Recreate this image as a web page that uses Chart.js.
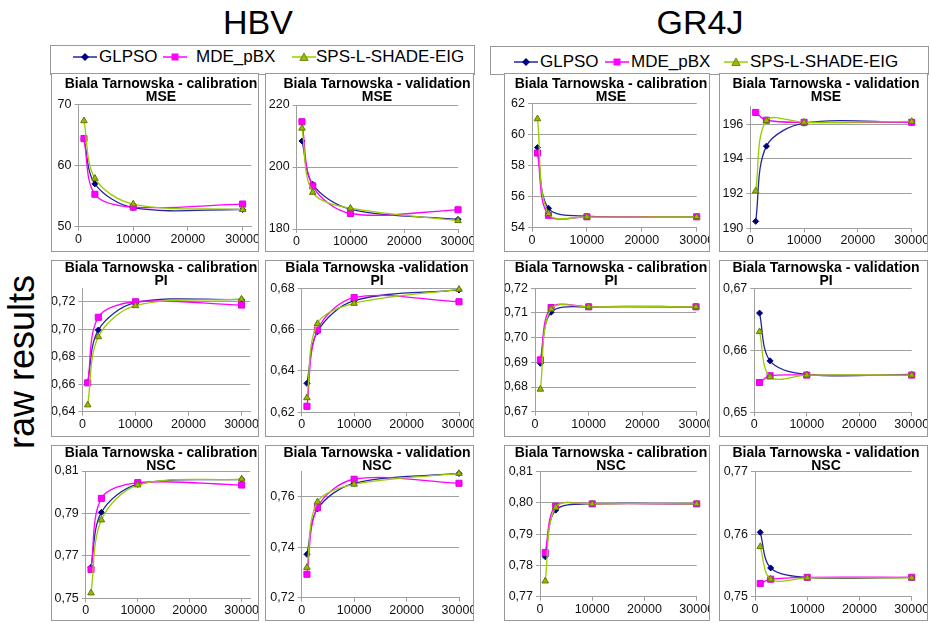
<!DOCTYPE html>
<html>
<head>
<meta charset="utf-8">
<script src="https://cdn.jsdelivr.net/npm/chart.js@4.4.1/dist/chart.umd.min.js"></script>
<style>
  body { margin: 0; background: #fff; font-family: 'Liberation Sans', Arial, sans-serif; }
  #page { position: relative; width: 931px; height: 623px; overflow: hidden; background: #fff; }
  .group-title { position: absolute; top: 3px; font-size: 34px; transform: translateX(-50%); white-space: nowrap; }
  .side-label { position: absolute; left: 22px; top: 362px; font-size: 36px; white-space: nowrap;
                transform: translate(-50%, -50%) rotate(-90deg); }
  .legend-box { position: absolute; border: 1px solid #999; box-sizing: border-box; }
  .legend-item { position: absolute; font-size: 17px; line-height: 20px; white-space: nowrap; }
  .legend-item svg { position: absolute; left: 0; top: 4px; }
  .panel { position: absolute; border: 1px solid #999; box-sizing: border-box; overflow: hidden; background: #fff; }
  .panel canvas { position: absolute; left: 0; top: 0; }
</style>
</head>
<body>
<div id="page">
  <div class="group-title" style="left:258px">HBV</div>
  <div class="group-title" style="left:700px">GR4J</div>
  <div class="side-label">raw results</div>
  <div class="legend-box" style="left:50px;top:45px;width:425px;height:30px"></div>
  <div class="legend-box" style="left:490px;top:46px;width:439px;height:29px"></div>
</div>
<script>
// x values: number of function evaluations
const evals = [1000, 3000, 10000, 30000];
const xTickValues = [0, 10000, 20000, 30000];
const seriesNames = ['GLPSO', 'MDE_pBX', 'SPS-L-SHADE-EIG'];

// ---- MSE ----
const hbvCalMseGLPSO = [64.3, 57.0, 53.1, 52.8];
const hbvCalMseMDE   = [64.4, 55.3, 53.2, 53.7];
const hbvCalMseSPS   = [67.3, 57.9, 53.7, 52.8];
const hbvCalMseTicks = [50, 60, 70];
const hbvCalMseRange = [50, 70];

const hbvValMseGLPSO = [208.4, 194.4, 186.4, 183.1];
const hbvValMseMDE   = [214.6, 193.9, 185.0, 186.2];
const hbvValMseSPS   = [212.5, 191.8, 186.7, 182.7];
const hbvValMseTicks = [180, 200, 220];
const hbvValMseRange = [180, 220];

const gr4jCalMseGLPSO = [59.15, 55.25, 54.75, 54.7];
const gr4jCalMseMDE   = [58.8, 54.8, 54.7, 54.7];
const gr4jCalMseSPS   = [61.0, 54.9, 54.7, 54.7];
const gr4jCalMseTicks = [54, 56, 58, 60, 62];
const gr4jCalMseRange = [54, 62];

const gr4jValMseGLPSO = [190.4, 194.73, 196.05, 196.1];
const gr4jValMseMDE   = [196.67, 196.22, 196.1, 196.1];
const gr4jValMseSPS   = [192.15, 196.2, 196.1, 196.15];
const gr4jValMseTicks = [190, 192, 194, 196];
const gr4jValMseRange = [190, 197];

// ---- PI ----
const hbvCalPiGLPSO = [0.661, 0.6994, 0.7193, 0.7217];
const hbvCalPiMDE   = [0.661, 0.7087, 0.72, 0.7176];
const hbvCalPiSPS   = [0.6449, 0.6945, 0.7171, 0.7219];
const hbvCalPiTicks = [0.64, 0.66, 0.68, 0.70, 0.72];
const hbvCalPiRange = [0.64, 0.73];

const hbvValPiGLPSO = [0.634, 0.659, 0.674, 0.6792];
const hbvValPiMDE   = [0.6229, 0.6598, 0.6755, 0.6735];
const hbvValPiSPS   = [0.627, 0.6629, 0.6727, 0.6795];
const hbvValPiTicks = [0.62, 0.64, 0.66, 0.68];
const hbvValPiRange = [0.62, 0.68];

const gr4jCalPiGLPSO = [0.6896, 0.7103, 0.7125, 0.7125];
const gr4jCalPiMDE   = [0.691, 0.7122, 0.7125, 0.7125];
const gr4jCalPiSPS   = [0.6791, 0.7116, 0.7125, 0.7125];
const gr4jCalPiTicks = [0.67, 0.68, 0.69, 0.70, 0.71, 0.72];
const gr4jCalPiRange = [0.67, 0.72];

const gr4jValPiGLPSO = [0.666, 0.6583, 0.6561, 0.6561];
const gr4jValPiMDE   = [0.6548, 0.6559, 0.656, 0.656];
const gr4jValPiSPS   = [0.663, 0.6557, 0.656, 0.656];
const gr4jValPiTicks = [0.65, 0.66, 0.67];
const gr4jValPiRange = [0.65, 0.67];

// ---- NSC ----
const hbvCalNscGLPSO = [0.7646, 0.7905, 0.8037, 0.8061];
const hbvCalNscMDE   = [0.7636, 0.7971, 0.8045, 0.8034];
const hbvCalNscSPS   = [0.7525, 0.7869, 0.8034, 0.8062];
const hbvCalNscTicks = [0.75, 0.77, 0.79, 0.81];
const hbvCalNscRange = [0.75, 0.81];

const hbvValNscGLPSO = [0.7372, 0.7552, 0.7654, 0.7693];
const hbvValNscMDE   = [0.7293, 0.7558, 0.767, 0.7654];
const hbvValNscSPS   = [0.732, 0.758, 0.765, 0.7693];
const hbvValNscTicks = [0.72, 0.74, 0.76];
const hbvValNscRange = [0.72, 0.77];

const gr4jCalNscGLPSO = [0.7828, 0.7977, 0.7997, 0.7997];
const gr4jCalNscMDE   = [0.7841, 0.799, 0.7997, 0.7997];
const gr4jCalNscSPS   = [0.775, 0.7986, 0.7997, 0.7997];
const gr4jCalNscTicks = [0.77, 0.78, 0.79, 0.80, 0.81];
const gr4jCalNscRange = [0.77, 0.81];

const gr4jValNscGLPSO = [0.7603, 0.7546, 0.7531, 0.7531];
const gr4jValNscMDE   = [0.7521, 0.7528, 0.7531, 0.7531];
const gr4jValNscSPS   = [0.758, 0.7528, 0.753, 0.753];
const gr4jValNscTicks = [0.75, 0.76, 0.77];
const gr4jValNscRange = [0.75, 0.77];

const FONT = "'Liberation Sans', Arial, sans-serif";
const gridColor = '#a0a0a0';

const seriesStyles = [
  { line: '#2424a0', fill: '#000080', edge: '#000080', shape: 'rectRot', r: 3 },
  { line: '#ff00ff', fill: '#ff00ff', edge: '#e000e0', shape: 'rect', r: 4.3 },
  { line: '#99cc00', fill: '#99b800', edge: '#5f7a00', shape: 'triangle', r: 3.8 }
];

// panel boxes [left, width] per column and [top, height] per row
const boxCols = [[51, 208], [265, 209], [504, 206], [719, 209]];
const boxRows = [[73, 179], [260, 177], [445, 176]];
const titleCenterX = [161, 377, 611, 826];
const titleLineY = [84, 267.7, 452.7];

const calib = 'Biala Tarnowska - calibration';
const valid = 'Biala Tarnowska - validation';

const panels = [
  { row: 0, col: 0, title: [calib, 'MSE'], dec: 0, xMax: 31600, plot: [78.5, 104.3, 251.4, 226.7],
    series: [hbvCalMseGLPSO, hbvCalMseMDE, hbvCalMseSPS], ticks: hbvCalMseTicks, range: hbvCalMseRange },
  { row: 0, col: 1, title: [valid, 'MSE'], dec: 0, xMax: 30000, plot: [296.6, 105, 458, 229],
    series: [hbvValMseGLPSO, hbvValMseMDE, hbvValMseSPS], ticks: hbvValMseTicks, range: hbvValMseRange },
  { row: 0, col: 2, title: [calib, 'MSE'], dec: 0, xMax: 30000, plot: [532, 103.3, 696.7, 227.7],
    series: [gr4jCalMseGLPSO, gr4jCalMseMDE, gr4jCalMseSPS], ticks: gr4jCalMseTicks, range: gr4jCalMseRange },
  { row: 0, col: 3, title: [valid, 'MSE'], dec: 0, xMax: 30000, plot: [750.3, 106.7, 911.7, 228.3],
    series: [gr4jValMseGLPSO, gr4jValMseMDE, gr4jValMseSPS], ticks: gr4jValMseTicks, range: gr4jValMseRange },

  { row: 1, col: 0, title: [calib, 'PI'], dec: 2, xMax: 31600, plot: [82.4, 288, 250, 411.7],
    series: [hbvCalPiGLPSO, hbvCalPiMDE, hbvCalPiSPS], ticks: hbvCalPiTicks, range: hbvCalPiRange },
  { row: 1, col: 1, title: ['Biala Tarnowska -validation', 'PI'], dec: 2, xMax: 30000, plot: [301.7, 288.3, 459, 412.3],
    series: [hbvValPiGLPSO, hbvValPiMDE, hbvValPiSPS], ticks: hbvValPiTicks, range: hbvValPiRange },
  { row: 1, col: 2, title: [calib, 'PI'], dec: 2, xMax: 30000, plot: [535, 288.3, 696, 411.7],
    series: [gr4jCalPiGLPSO, gr4jCalPiMDE, gr4jCalPiSPS], ticks: gr4jCalPiTicks, range: gr4jCalPiRange },
  { row: 1, col: 3, title: [valid, 'PI'], dec: 2, xMax: 30000, plot: [754.3, 288.3, 911.7, 412.3],
    series: [gr4jValPiGLPSO, gr4jValPiMDE, gr4jValPiSPS], ticks: gr4jValPiTicks, range: gr4jValPiRange },

  { row: 2, col: 0, title: [calib, 'NSC'], dec: 2, xMax: 31600, plot: [85.8, 471, 250, 598.3],
    series: [hbvCalNscGLPSO, hbvCalNscMDE, hbvCalNscSPS], ticks: hbvCalNscTicks, range: hbvCalNscRange },
  { row: 2, col: 1, title: [valid, 'NSC'], dec: 2, xMax: 30000, plot: [301.7, 471.7, 459, 597.7],
    series: [hbvValNscGLPSO, hbvValNscMDE, hbvValNscSPS], ticks: hbvValNscTicks, range: hbvValNscRange },
  { row: 2, col: 2, title: [calib, 'NSC'], dec: 2, xMax: 30000, plot: [540, 471.7, 696.7, 596.7],
    series: [gr4jCalNscGLPSO, gr4jCalNscMDE, gr4jCalNscSPS], ticks: gr4jCalNscTicks, range: gr4jCalNscRange },
  { row: 2, col: 3, title: [valid, 'NSC'], dec: 2, xMax: 30000, plot: [755, 471.7, 911.7, 596.7],
    series: [gr4jValNscGLPSO, gr4jValNscMDE, gr4jValNscSPS], ticks: gr4jValNscTicks, range: gr4jValNscRange }
];

// draws the two-line bold panel heading at a fixed spot
const panelTitle = {
  id: 'panelTitle',
  afterDraw(chart, args, opts) {
    const ctx = chart.ctx;
    ctx.save();
    ctx.font = 'bold 14px ' + FONT;
    ctx.fillStyle = '#000';
    ctx.textAlign = 'center';
    ctx.textBaseline = 'middle';
    opts.lines.forEach((t, i) => ctx.fillText(t, opts.x, opts.y + i * 13));
    ctx.restore();
  }
};

const page = document.getElementById('page');

function buildPanel(p) {
  const [bl, bw] = boxCols[p.col];
  const [bt, bh] = boxRows[p.row];
  const wrap = document.createElement('div');
  wrap.className = 'panel';
  Object.assign(wrap.style, { left: bl + 'px', top: bt + 'px', width: bw + 'px', height: bh + 'px' });
  const cv = document.createElement('canvas');
  const ox = bl + 1, oy = bt + 1;
  const cw = bw + 20, ch = bh - 2;
  cv.width = cw; cv.height = ch;
  cv.style.width = cw + 'px'; cv.style.height = ch + 'px';
  wrap.appendChild(cv);
  page.appendChild(wrap);

  const [pl, pt, pr, pb] = p.plot;
  const yW = pl - ox;
  const xH = oy + ch - pb;
  const padR = cw - (pr - ox);
  const tickFont = { family: FONT, size: 12.5 };

  new Chart(cv, {
    type: 'line',
    data: {
      datasets: seriesStyles.map((s, i) => ({
        label: seriesNames[i],
        data: evals.map((x, k) => ({ x: x, y: p.series[i][k] })),
        borderColor: s.line,
        backgroundColor: s.fill,
        pointBackgroundColor: s.fill,
        pointBorderColor: s.edge,
        pointStyle: s.shape,
        pointRadius: s.r,
        pointBorderWidth: 1,
        borderWidth: 1.3,
        tension: 0.33,
        order: 2 - i,
        clip: false
      }))
    },
    options: {
      responsive: false,
      animation: false,
      devicePixelRatio: 1,
      layout: { padding: { left: 0, right: padR, top: pt - oy, bottom: 0 } },
      plugins: {
        legend: { display: false },
        tooltip: { enabled: false },
        panelTitle: { lines: p.title, x: titleCenterX[p.col] - ox, y: titleLineY[p.row] - oy }
      },
      scales: {
        x: {
          type: 'linear',
          min: 0,
          max: p.xMax,
          afterBuildTicks: s => { s.ticks = xTickValues.map(v => ({ value: v })); },
          afterFit: s => { s.height = xH; },
          ticks: { callback: v => String(v), font: tickFont, color: '#111', padding: 1, maxRotation: 0, autoSkip: false },
          grid: { drawOnChartArea: false, tickLength: 4, color: gridColor },
          border: { color: gridColor }
        },
        y: {
          min: p.range[0],
          max: p.range[1],
          afterBuildTicks: s => { s.ticks = p.ticks.map(v => ({ value: v })); },
          afterFit: s => { s.width = yW; },
          ticks: { callback: v => v.toFixed(p.dec).replace('.', ','), font: tickFont, color: '#111', padding: 3, autoSkip: false },
          grid: { color: gridColor, tickLength: 4 },
          border: { color: gridColor }
        }
      }
    },
    plugins: [panelTitle]
  });
}

panels.forEach(buildPanel);

// legends (one per model group)
const legendShapes = [
  '<polygon points="12,2 16,6 12,10 8,6" fill="#000080"/>',
  '<rect x="8.5" y="2.5" width="7" height="7" fill="#ff00ff"/>',
  '<polygon points="12,2 16.2,9.5 7.8,9.5" fill="#99b800" stroke="#5f7a00" stroke-width="0.8"/>'
];
const legendLayouts = [
  { y: 47, items: [[73, 99], [163, 196], [292, 316]] },
  { y: 52, items: [[514, 540], [605, 631], [724, 750]] }
];
legendLayouts.forEach(lg => {
  lg.items.forEach(([kx, tx], i) => {
    const item = document.createElement('div');
    item.className = 'legend-item';
    item.style.left = kx + 'px';
    item.style.top = lg.y + 'px';
    item.style.paddingLeft = (tx - kx) + 'px';
    item.innerHTML = '<svg width="25" height="12"><line x1="0" y1="6" x2="24" y2="6" stroke="' +
      seriesStyles[i].line + '" stroke-width="1.5"/>' + legendShapes[i] + '</svg>' + seriesNames[i];
    page.appendChild(item);
  });
});
</script>
</body>
</html>
